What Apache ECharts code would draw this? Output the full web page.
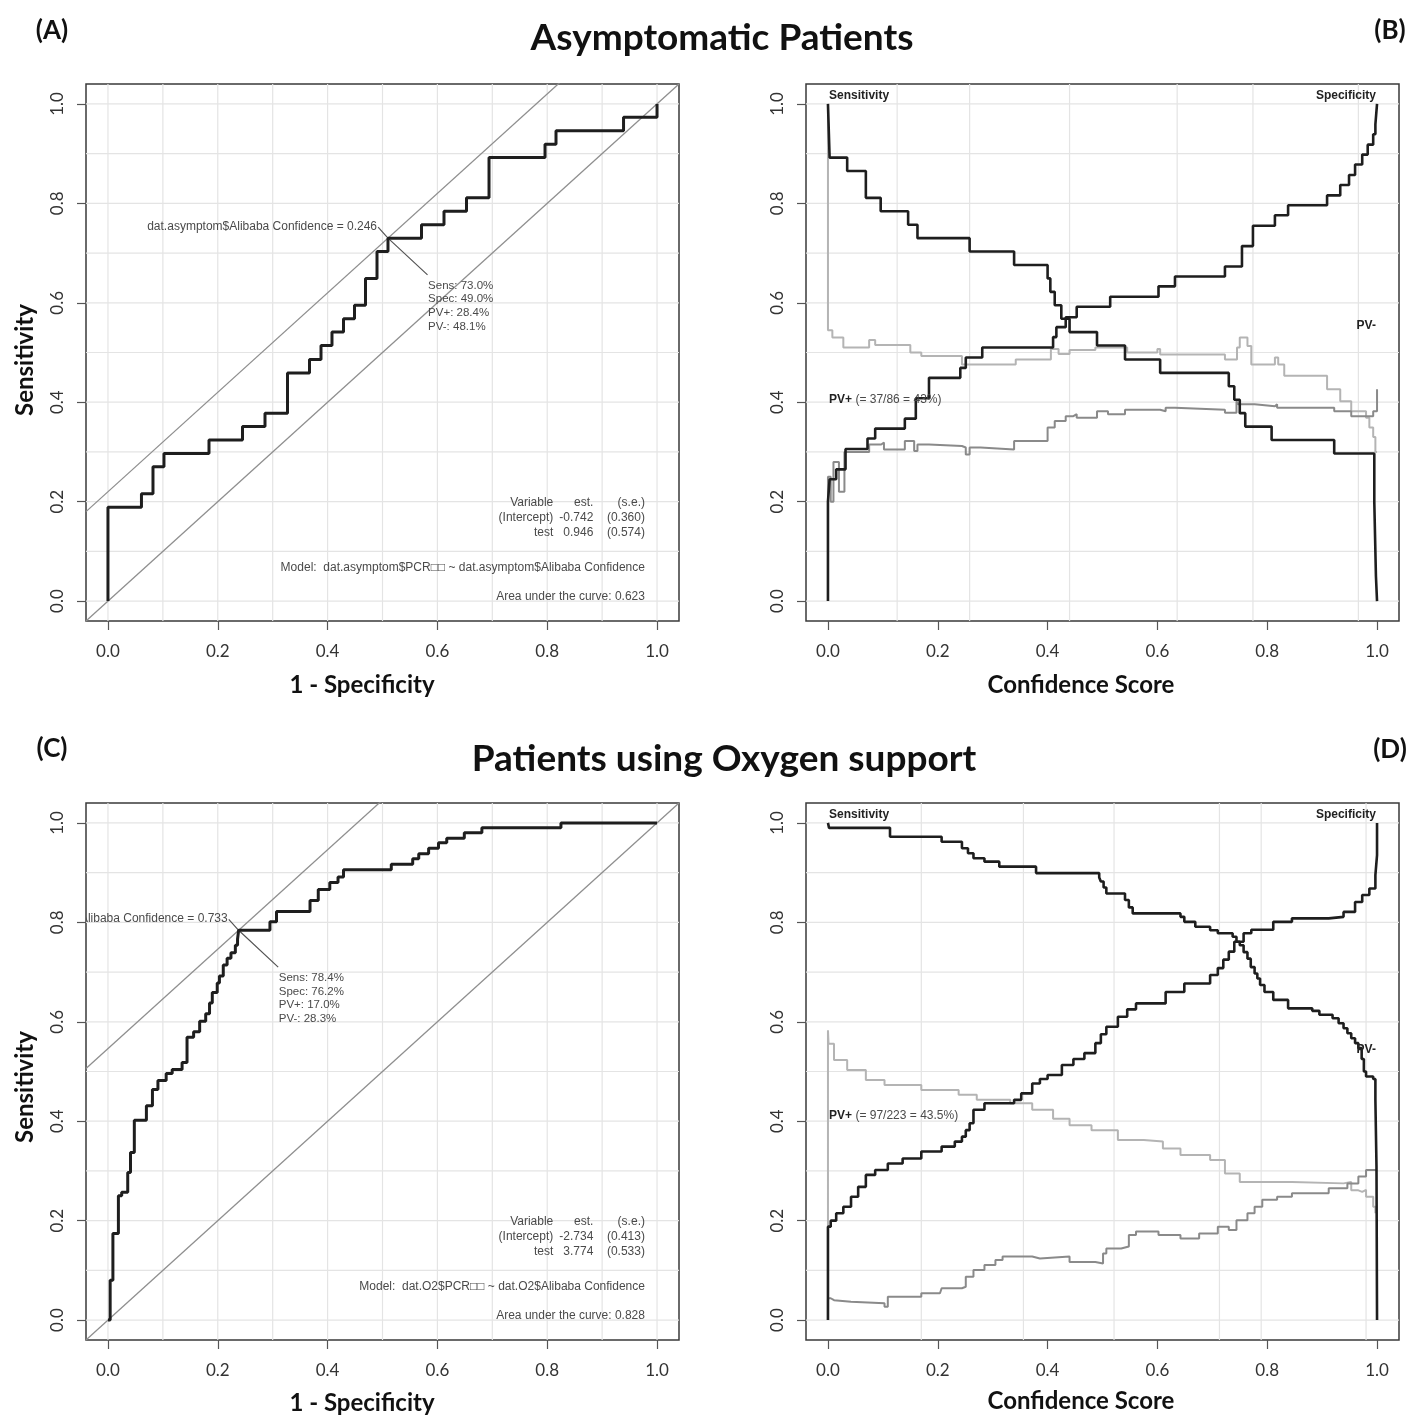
<!DOCTYPE html>
<html>
<head>
<meta charset="utf-8">
<script src="https://cdn.jsdelivr.net/npm/echarts@6.0.0/dist/echarts.min.js"></script>
<style>
  html, body { margin: 0; padding: 0; background: #fff; }
  #chart { width: 1411px; height: 1418px; }
</style>
</head>
<body>
<div id="chart"></div>
<script>
// ---------------- Panel A: ROC curve, asymptomatic patients ----------------
const rocA_fpr  = [0, 0, 0.061, 0.082, 0.102, 0.184, 0.245, 0.286, 0.327, 0.367, 0.388, 0.408, 0.429,
                   0.449, 0.469, 0.490, 0.510, 0.571, 0.612, 0.653, 0.694, 0.796, 0.816, 0.939, 1.0];
const rocA_sens = [0, 0.189, 0.216, 0.270, 0.297, 0.324, 0.351, 0.378, 0.459, 0.486, 0.514, 0.541, 0.568,
                   0.595, 0.649, 0.703, 0.730, 0.757, 0.784, 0.811, 0.892, 0.919, 0.946, 0.973, 1.0];
const cutA = { sens: 0.730, spec: 0.490, threshold: 0.246, pvPos: 28.4, pvNeg: 48.1 };
const fitA = { est: [-0.742, 0.946], se: [0.360, 0.574], auc: 0.623 };

// ---------------- Panel C: ROC curve, patients on oxygen support ----------------
const rocC_fpr  = [0, 0.004, 0.009, 0.019, 0.025, 0.036, 0.041, 0.048, 0.070, 0.081, 0.091, 0.106, 0.117,
                   0.135, 0.144, 0.156, 0.167, 0.178, 0.185, 0.190, 0.199, 0.203, 0.210, 0.217, 0.224,
                   0.232, 0.236, 0.238, 0.295, 0.307, 0.368, 0.383, 0.404, 0.419, 0.429, 0.516, 0.555,
                   0.566, 0.584, 0.602, 0.617, 0.649, 0.681, 0.825, 1.0];
const rocC_sens = [0, 0.080, 0.174, 0.250, 0.257, 0.297, 0.337, 0.402, 0.431, 0.464, 0.482, 0.496, 0.504,
                   0.518, 0.569, 0.580, 0.601, 0.616, 0.638, 0.659, 0.678, 0.692, 0.714, 0.728, 0.739,
                   0.754, 0.766, 0.784, 0.801, 0.822, 0.844, 0.866, 0.880, 0.891, 0.906, 0.917, 0.928,
                   0.938, 0.949, 0.960, 0.969, 0.980, 0.990, 1.0, 1.0];
const cutC = { sens: 0.784, spec: 0.762, threshold: 0.733, pvPos: 17.0, pvNeg: 28.3 };
const fitC = { est: [-2.734, 3.774], se: [0.413, 0.533], auc: 0.828 };

// ---------------- Panel B: sens / spec / PV vs score, asymptomatic ----------------
const sensB_x = [0, 0.003, 0.035, 0.069, 0.096, 0.146, 0.163, 0.258, 0.339, 0.400, 0.405, 0.413, 0.425,
                 0.440, 0.490, 0.541, 0.605, 0.730, 0.740, 0.750, 0.760, 0.808, 0.922, 0.995, 0.998, 1.0];
const sensB_y = [1.0, 0.892, 0.865, 0.811, 0.784, 0.757, 0.730, 0.703, 0.676, 0.649, 0.622, 0.595, 0.568,
                 0.541, 0.514, 0.486, 0.459, 0.432, 0.405, 0.378, 0.351, 0.324, 0.297, 0.200, 0.050, 0.0];
const specB_x = [0, 0, 0.003, 0.015, 0.032, 0.072, 0.086, 0.140, 0.160, 0.184, 0.241, 0.251, 0.281, 0.410,
                 0.416, 0.433, 0.453, 0.514, 0.602, 0.632, 0.723, 0.754, 0.774, 0.814, 0.838, 0.909, 0.933,
                 0.949, 0.960, 0.973, 0.983, 0.993, 0.997, 1.0];
const specB_y = [0, 0.200, 0.245, 0.265, 0.306, 0.327, 0.347, 0.367, 0.408, 0.449, 0.469, 0.490, 0.510, 0.531,
                 0.551, 0.571, 0.592, 0.612, 0.633, 0.653, 0.673, 0.714, 0.755, 0.776, 0.796, 0.816, 0.837,
                 0.857, 0.878, 0.898, 0.918, 0.939, 0.959, 1.0];
const pvnB_x = [0, 0, 0.008, 0.028, 0.075, 0.086, 0.150, 0.170, 0.244, 0.342, 0.406, 0.420, 0.440, 0.487,
                0.545, 0.600, 0.605, 0.723, 0.745, 0.750, 0.764, 0.771, 0.814, 0.820, 0.831, 0.909, 0.933,
                0.953, 0.980, 0.986, 0.993, 0.997, 1.0];
const pvnB_y = [1.0, 0.545, 0.530, 0.510, 0.525, 0.515, 0.500, 0.493, 0.476, 0.486, 0.507, 0.497, 0.505, 0.510,
                0.500, 0.507, 0.496, 0.486, 0.510, 0.530, 0.513, 0.476, 0.490, 0.476, 0.453, 0.426, 0.402,
                0.382, 0.369, 0.349, 0.330, 0.300, 0.300];
const pvpB_x = [0, 0, 0.005, 0.010, 0.020, 0.030, 0.075, 0.097, 0.102, 0.140, 0.157, 0.163, 0.184, 0.244,
                0.251, 0.258, 0.278, 0.339, 0.400, 0.413, 0.433, 0.447, 0.453, 0.490, 0.510, 0.541, 0.605,
                0.615, 0.632, 0.723, 0.744, 0.747, 0.777, 0.814, 0.818, 0.922, 0.953, 0.993, 1.0];
const pvpB_y = [0, 0.250, 0.200, 0.280, 0.220, 0.300, 0.315, 0.319, 0.305, 0.322, 0.302, 0.315, 0.312, 0.309,
                0.295, 0.309, 0.305, 0.322, 0.349, 0.362, 0.372, 0.376, 0.369, 0.382, 0.376, 0.385, 0.382,
                0.389, 0.385, 0.379, 0.402, 0.396, 0.392, 0.396, 0.389, 0.382, 0.372, 0.382, 0.426];
const prevB = { pos: 37, total: 86 };

// ---------------- Panel D: sens / spec / PV vs score, oxygen support ----------------
const sensD_x = [0, 0.002, 0.113, 0.207, 0.244, 0.255, 0.265, 0.285, 0.312, 0.379, 0.494, 0.497, 0.502,
                 0.507, 0.541, 0.548, 0.555, 0.642, 0.649, 0.669, 0.696, 0.710, 0.737, 0.744, 0.750, 0.757,
                 0.764, 0.770, 0.777, 0.782, 0.787, 0.795, 0.811, 0.838, 0.882, 0.895, 0.919, 0.930, 0.939,
                 0.946, 0.953, 0.960, 0.966, 0.972, 0.976, 0.980, 0.993, 0.997, 0.999, 1.0];
const sensD_y = [1.0, 0.990, 0.972, 0.962, 0.949, 0.939, 0.929, 0.922, 0.912, 0.899, 0.890, 0.882, 0.870,
                 0.858, 0.845, 0.830, 0.818, 0.811, 0.801, 0.791, 0.784, 0.778, 0.771, 0.761, 0.754, 0.740,
                 0.727, 0.710, 0.697, 0.687, 0.674, 0.660, 0.644, 0.627, 0.622, 0.614, 0.607, 0.597, 0.587,
                 0.577, 0.567, 0.557, 0.547, 0.525, 0.500, 0.490, 0.485, 0.443, 0.309, 0.0];
const specD_x = [0, 0, 0.005, 0.015, 0.028, 0.042, 0.055, 0.069, 0.086, 0.109, 0.136, 0.170, 0.207, 0.231,
                 0.244, 0.251, 0.258, 0.265, 0.285, 0.339, 0.352, 0.372, 0.386, 0.400, 0.426, 0.447, 0.467,
                 0.487, 0.497, 0.507, 0.528, 0.545, 0.561, 0.615, 0.649, 0.696, 0.710, 0.720, 0.730, 0.740,
                 0.757, 0.771, 0.811, 0.845, 0.912, 0.939, 0.960, 0.973, 0.986, 0.997, 1.0, 1.0];
const specD_y = [0, 0.188, 0.200, 0.215, 0.228, 0.248, 0.268, 0.292, 0.302, 0.315, 0.325, 0.339, 0.349, 0.359,
                 0.369, 0.382, 0.396, 0.423, 0.436, 0.443, 0.456, 0.476, 0.485, 0.493, 0.513, 0.525, 0.537,
                 0.557, 0.575, 0.590, 0.610, 0.625, 0.637, 0.660, 0.677, 0.694, 0.708, 0.725, 0.741, 0.761,
                 0.778, 0.785, 0.801, 0.808, 0.811, 0.821, 0.841, 0.855, 0.868, 0.895, 0.935, 1.0];
const pvnD_x = [0, 0, 0.001, 0.011, 0.035, 0.069, 0.103, 0.170, 0.238, 0.271, 0.332, 0.372, 0.410, 0.440, 0.480,
                0.528, 0.575, 0.610, 0.642, 0.696, 0.723, 0.750, 0.845, 0.939, 0.953, 0.966, 0.973, 0.980,
                0.993, 0.997];
const pvnD_y = [0, 0.583, 0.556, 0.523, 0.503, 0.483, 0.473, 0.463, 0.453, 0.443, 0.436, 0.423, 0.405, 0.392,
                0.382, 0.362, 0.359, 0.345, 0.332, 0.322, 0.295, 0.278, 0.275, 0.278, 0.261, 0.258, 0.262,
                0.248, 0.228, 0.215];
const pvpD_x = [0, 0, 0.005, 0.011, 0.042, 0.103, 0.109, 0.170, 0.204, 0.207, 0.244, 0.251, 0.265, 0.285,
                0.305, 0.318, 0.372, 0.386, 0.440, 0.487, 0.501, 0.507, 0.534, 0.548, 0.561, 0.602, 0.642,
                0.676, 0.710, 0.730, 0.744, 0.764, 0.777, 0.791, 0.818, 0.845, 0.912, 0.946, 0.966, 0.980, 1.0];
const pvpD_y = [0, 0.044, 0.040, 0.037, 0.034, 0.027, 0.047, 0.054, 0.050, 0.064, 0.067, 0.087, 0.101, 0.111,
                0.121, 0.128, 0.124, 0.128, 0.117, 0.114, 0.134, 0.144, 0.148, 0.171, 0.178, 0.171, 0.164,
                0.174, 0.188, 0.181, 0.201, 0.215, 0.228, 0.242, 0.248, 0.255, 0.265, 0.275, 0.289, 0.302, 0.302];
const prevD = { pos: 97, total: 223 };

// ---------------- axes, grid lines ----------------
const tickValues = [0, 0.2, 0.4, 0.6, 0.8, 1.0];
const tenths = [0, 0.1, 0.2, 0.3, 0.4, 0.5, 0.6, 0.7, 0.8, 0.9, 1.0];
const gridV_B = [0.126, 0.258, 0.440, 0.636, 0.774, 0.966];
const gridV_D = [0.170, 0.356, 0.521, 0.713, 0.789, 0.980];

// ---------------- layout ----------------
const AX_MIN = -0.04, AX_MAX = 1.04;
const PLOT_W = 593, PLOT_H = 537;
const panelPos = [[86, 84], [806, 84], [86, 803], [806, 803]];
const LABEL_FONT = 'Lato, "Open Sans", sans-serif';
const PLOT_FONT = '"Liberation Sans", Arial, sans-serif';
const fmt1 = v => v.toFixed(1);
const zip = (xs, ys) => xs.map((x, i) => [x, ys[i]]);

const grids = panelPos.map(([l, t]) => ({
  left: l, top: t, width: PLOT_W, height: PLOT_H,
  show: true, borderColor: '#3a3a3a', borderWidth: 1.5, backgroundColor: 'transparent'
}));

const xAxes = panelPos.map((_, i) => ({
  type: 'value', gridIndex: i, min: AX_MIN, max: AX_MAX,
  axisLine: { show: false, onZero: false },
  splitLine: { show: false },
  axisTick: { show: true, customValues: tickValues, length: 9, lineStyle: { color: '#555', width: 1.2 } },
  axisLabel: { customValues: tickValues, formatter: fmt1, margin: 22, fontSize: 17,
               color: '#333', fontFamily: LABEL_FONT }
}));
const yAxes = panelPos.map((_, i) => ({
  type: 'value', gridIndex: i, min: AX_MIN, max: AX_MAX,
  axisLine: { show: false, onZero: false },
  splitLine: { show: false },
  axisTick: { show: true, customValues: tickValues, length: 9, lineStyle: { color: '#555', width: 1.2 } },
  axisLabel: { customValues: tickValues, formatter: fmt1, rotate: 90, margin: 20, fontSize: 17,
               color: '#333', fontFamily: LABEL_FONT }
}));

// light grid lines drawn across the whole plotting region
function gridLines(i, vs, hs) {
  const data = vs.map(v => [v, 0]).concat(hs.map(h => [h, 1]));
  return {
    type: 'custom', xAxisIndex: i, yAxisIndex: i, silent: true, z: 1, data,
    renderItem(params, api) {
      const v = api.value(0), horiz = api.value(1) === 1;
      const a = horiz ? api.coord([AX_MIN, v]) : api.coord([v, AX_MIN]);
      const b = horiz ? api.coord([AX_MAX, v]) : api.coord([v, AX_MAX]);
      return { type: 'line', shape: { x1: a[0], y1: a[1], x2: b[0], y2: b[1] },
               style: { stroke: '#e4e4e4', lineWidth: 1.2 } };
    }
  };
}

// straight reference line y = intercept + x across the plotting region
function refLine(i, intercept) {
  return {
    type: 'line', xAxisIndex: i, yAxisIndex: i, silent: true, clip: true, z: 2,
    symbol: 'none', lineStyle: { color: '#8f8f8f', width: 1.3 },
    data: [[AX_MIN, intercept + AX_MIN], [AX_MAX, intercept + AX_MAX]]
  };
}

function stepLine(i, xs, ys, color, width, z) {
  return {
    type: 'line', xAxisIndex: i, yAxisIndex: i, silent: true, clip: true, z: z || 3,
    step: 'end', symbol: 'none', lineStyle: { color, width }, data: zip(xs, ys)
  };
}

function polyLine(i, pts, color, width) {
  return {
    type: 'line', xAxisIndex: i, yAxisIndex: i, silent: true, clip: true, z: 4,
    symbol: 'none', lineStyle: { color, width }, data: pts
  };
}

// text notes placed in data coordinates, clipped to the plotting region
function notes(i, list) {
  return {
    type: 'custom', xAxisIndex: i, yAxisIndex: i, silent: true, clip: true, z: 6,
    data: list.map((n, k) => [n.at[0], n.at[1], k]),
    renderItem(params, api) {
      const n = list[api.value(2)];
      const p = api.coord([api.value(0), api.value(1)]);
      return {
        type: 'text', x: p[0], y: p[1],
        style: {
          text: n.text, rich: n.rich, fill: n.color || '#4a4a4a',
          fontSize: n.size || 12, fontWeight: n.weight || 'normal', fontFamily: PLOT_FONT,
          align: n.align || 'left', verticalAlign: n.valign || 'middle', lineHeight: n.lh || 13.6
        }
      };
    }
  };
}

function rocNotes(i, cut, fit, name, model) {
  const pct = v => (v * 100).toFixed(1) + '%';
  const cols = [0.811, 0.884, 0.978];
  const rows = [['Variable', 'est.', '(s.e.)'],
                ['(Intercept)', fit.est[0].toFixed(3), '(' + fit.se[0].toFixed(3) + ')'],
                ['test', fit.est[1].toFixed(3), '(' + fit.se[1].toFixed(3) + ')']];
  const rowY = [0.197, 0.167, 0.137];
  const list = [];
  rows.forEach((r, ri) => r.forEach((t, ci) => list.push({ at: [cols[ci], rowY[ri]], text: t, align: 'right' })));
  list.push({ at: [0.978, 0.068], text: 'Model:  ' + model, align: 'right' });
  list.push({ at: [0.978, 0.008], text: 'Area under the curve: ' + fit.auc.toFixed(3), align: 'right' });
  const px = 1 - cut.spec, py = cut.sens;
  list.push({ at: [px - 0.02, py + 0.024], text: name + ' = ' + cut.threshold.toFixed(3), align: 'right' });
  list.push({ at: [px + 0.073, py - 0.082],
              text: ['Sens: ' + pct(cut.sens), 'Spec: ' + pct(cut.spec),
                     'PV+: ' + cut.pvPos.toFixed(1) + '%', 'PV-: ' + cut.pvNeg.toFixed(1) + '%'].join('\n'),
              valign: 'top', size: 11.5 });
  return list;
}

function leader(i, cut) {
  const px = 1 - cut.spec, py = cut.sens;
  return polyLine(i, [[px - 0.018, py + 0.022], [px, py], [px + 0.072, py - 0.074]], '#555', 1.2);
}

function spNotes(prev, pvPosY, pvNegY) {
  const pct = 100 * prev.pos / prev.total;
  const pctTxt = Number.isInteger(Math.round(pct * 10) / 10) ? Math.round(pct) + '%' : pct.toFixed(1) + '%';
  return [
    { at: [0.002, 1.016], text: 'Sensitivity', weight: 'bold', size: 12, color: '#222' },
    { at: [0.998, 1.016], text: 'Specificity', weight: 'bold', size: 12, color: '#222', align: 'right' },
    { at: [0.002, pvPosY], text: '{b|PV+} (= ' + prev.pos + '/' + prev.total + ' = ' + pctTxt + ')',
      rich: { b: { fontWeight: 'bold', fontSize: 12, fontFamily: PLOT_FONT, fill: '#222' } }, size: 12 },
    { at: [0.998, pvNegY], text: 'PV-', weight: 'bold', size: 12, color: '#222', align: 'right' }
  ];
}

const BLACK = '#1e1e1e', LIGHT = '#b4b4b4', MID = '#8a8a8a';

const series = [
  // A
  gridLines(0, tenths, tenths),
  refLine(0, 0),
  refLine(0, cutA.sens + cutA.spec - 1),
  leader(0, cutA),
  stepLine(0, rocA_fpr, rocA_sens, BLACK, 3, 5),
  notes(0, rocNotes(0, cutA, fitA, 'dat.asymptom$Alibaba Confidence',
                    'dat.asymptom$PCR\u25A1\u25A1 ~ dat.asymptom$Alibaba Confidence')),
  // B
  gridLines(1, gridV_B, tenths),
  stepLine(1, pvnB_x, pvnB_y, LIGHT, 2),
  stepLine(1, pvpB_x, pvpB_y, MID, 2),
  stepLine(1, sensB_x, sensB_y, BLACK, 2.6, 5),
  stepLine(1, specB_x, specB_y, BLACK, 2.6, 5),
  notes(1, spNotes(prevB, 0.405, 0.553)),
  // C
  gridLines(2, tenths, tenths),
  refLine(2, 0),
  refLine(2, cutC.sens + cutC.spec - 1),
  leader(2, cutC),
  stepLine(2, rocC_fpr, rocC_sens, BLACK, 3, 5),
  notes(2, rocNotes(2, cutC, fitC, 'dat.O2$Alibaba Confidence',
                    'dat.O2$PCR\u25A1\u25A1 ~ dat.O2$Alibaba Confidence')),
  // D
  gridLines(3, gridV_D, tenths),
  stepLine(3, pvnD_x, pvnD_y, LIGHT, 2),
  stepLine(3, pvpD_x, pvpD_y, MID, 2),
  stepLine(3, sensD_x, sensD_y, BLACK, 2.6, 5),
  stepLine(3, specD_x, specD_y, BLACK, 2.6, 5),
  notes(3, spNotes(prevD, 0.412, 0.543))
];

// figure titles, panel letters and axis titles
function txt(text, x, y, size, opts) {
  return Object.assign({
    type: 'text', x, y, silent: true,
    style: { text, fontSize: size, fontWeight: 'bold', fontFamily: LABEL_FONT, fill: '#111',
             align: 'center', verticalAlign: 'middle' }
  }, opts || {});
}
const graphic = [
  txt('(A)', 52, 31, 26), txt('(B)', 1390, 31, 26),
  txt('Asymptomatic Patients', 722, 38, 37),
  txt('(C)', 52, 749, 26), txt('(D)', 1390, 750, 26),
  txt('Patients using Oxygen support', 724, 759, 37),
  txt('Sensitivity', 25, 360, 24, { rotation: Math.PI / 2 }),
  txt('Sensitivity', 25, 1087, 24, { rotation: Math.PI / 2 }),
  txt('1 - Specificity', 362, 685, 24), txt('1 - Specificity', 362, 1403, 24),
  txt('Confidence Score', 1081, 685, 24), txt('Confidence Score', 1081, 1401, 24)
];

const chart = echarts.init(document.getElementById('chart'), null, { renderer: 'canvas' });
chart.setOption({
  animation: false,
  backgroundColor: '#fff',
  grid: grids, xAxis: xAxes, yAxis: yAxes,
  series, graphic
});
</script>
</body>
</html>
